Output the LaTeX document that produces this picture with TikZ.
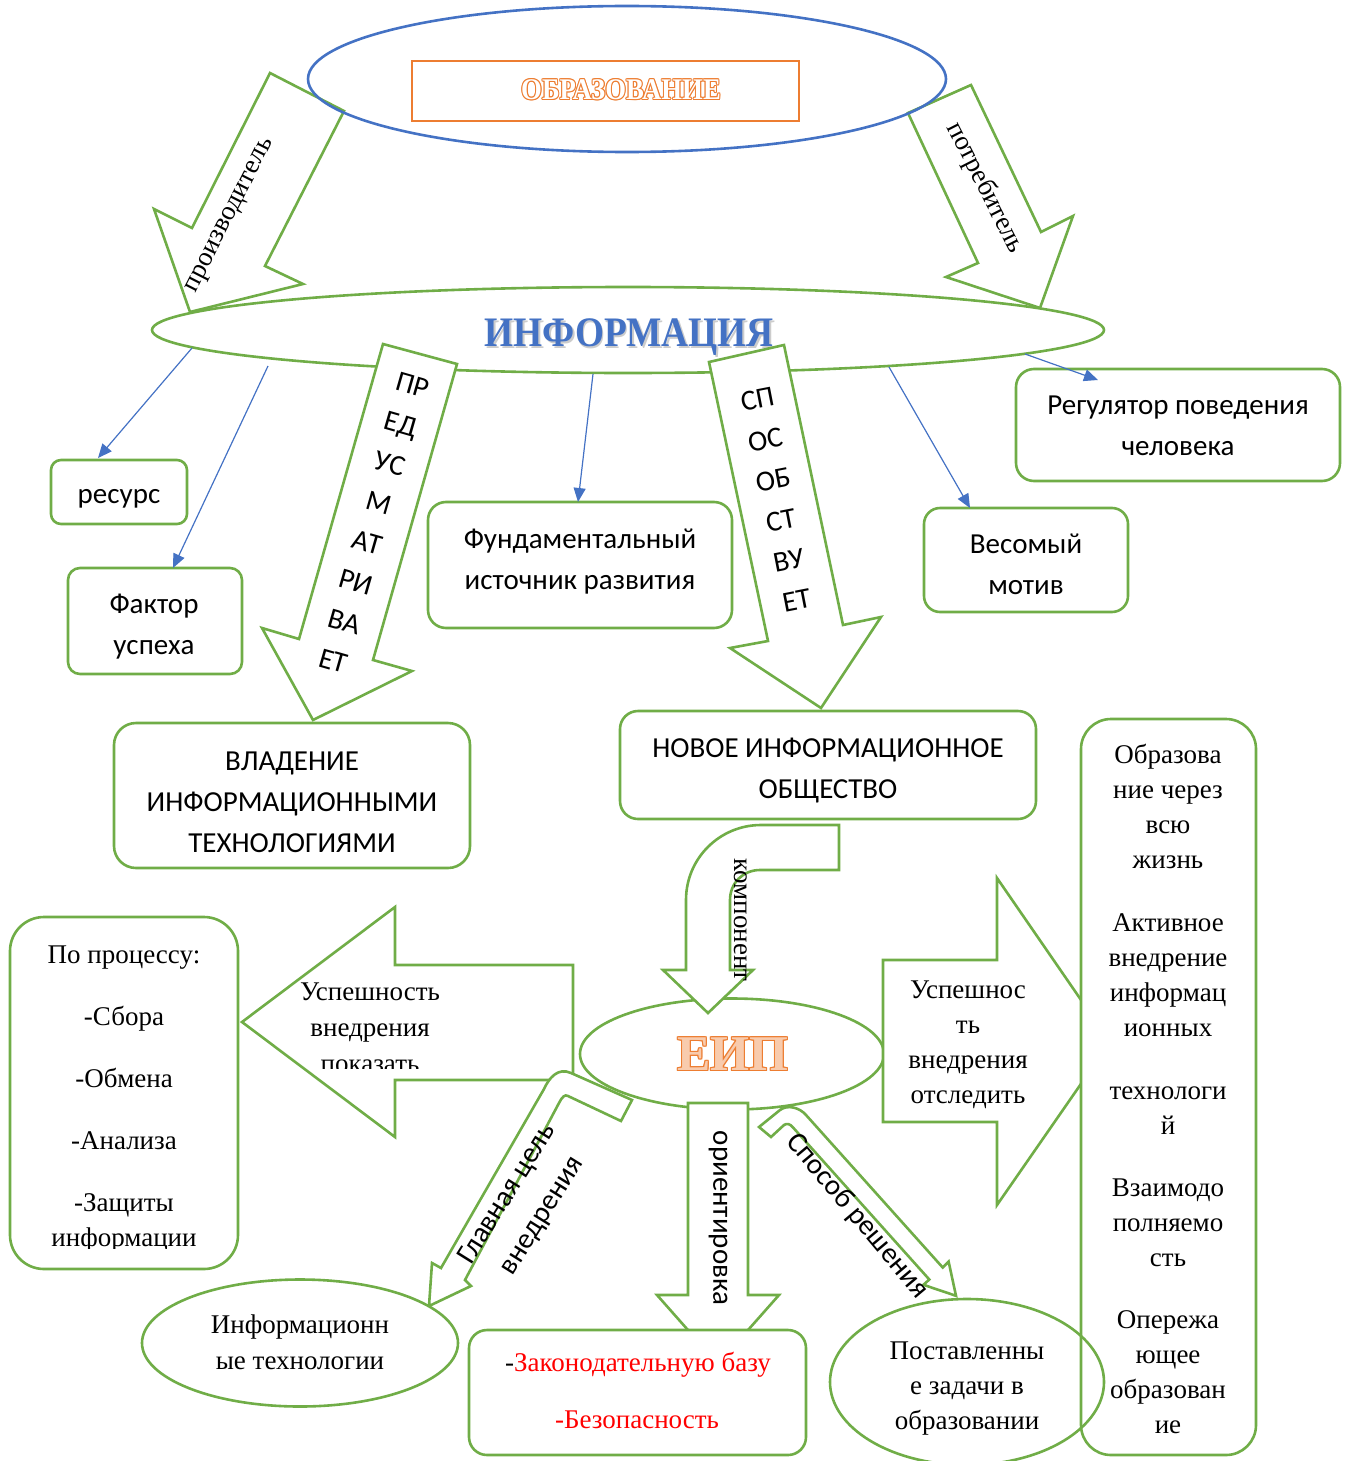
\documentclass[tikz,border=0pt]{standalone}
\usepackage{fontspec}
\usepackage{graphicx}
\setmainfont{Liberation Serif}
\newfontfamily\calib{Carlito}
\usetikzlibrary{shapes.geometric,arrows.meta,calc}
\definecolor{grn}{HTML}{70AD47}
\definecolor{blu}{HTML}{4472C4}
\definecolor{org}{HTML}{ED7D31}
\definecolor{orgL}{HTML}{F8CBAD}
\definecolor{redT}{HTML}{FF0000}
\newcommand{\olt}[3]{\setbox0=\hbox{#3}\leavevmode\hbox{%
 \rlap{\color{#1}\kern0.6pt\copy0}\rlap{\color{#1}\kern-0.6pt\copy0}%
 \rlap{\color{#1}\raise0.6pt\copy0}\rlap{\color{#1}\lower0.6pt\copy0}%
 \rlap{\color{#1}\kern0.42pt\raise0.42pt\copy0}\rlap{\color{#1}\kern-0.42pt\raise0.42pt\copy0}%
 \rlap{\color{#1}\kern0.42pt\lower0.42pt\copy0}\rlap{\color{#1}\kern-0.42pt\lower0.42pt\copy0}%
 {\color{#2}\copy0}}}
\newcommand{\shad}[3]{\setbox0=\hbox{#3}\leavevmode\hbox{%
 \rlap{\color{#1}\kern1pt\lower1.3pt\copy0}{\color{#2}\copy0}}}
\begin{document}
\begin{tikzpicture}[x=0.5pt,y=-0.5pt,
  gline/.style={draw=grn, line width=1.3pt, line join=miter},
  barrow/.style={gline, fill=white},
  box/.style={gline, rounded corners=#1, fill=white, inner sep=0pt},
  box/.default=6pt,
  sans/.style={font=\calib\fontsize{14.5}{20.5}\selectfont, inner sep=0pt, align=center},
  serif/.style={font=\fontsize{13.5}{17.5}\selectfont, inner sep=0pt, align=center},
  conn/.style={draw=blu, line width=0.6pt, -{Triangle[length=7pt,width=6pt]}},
  ell/.style={ellipse, inner sep=0pt}]
\useasboundingbox (0,0) rectangle (1349,1461);

% ---------- top ----------
\draw[barrow] (270,73) -- (344,111) -- (265,266) -- (303,284) -- (190,312) -- (154,209) -- (192,228) -- cycle;
\node[serif, rotate=63] (prod) at (231,216) {производитель};
\draw[barrow] (908,113) -- (971,85) -- (1041,232) -- (1073,216) -- (1040,308) -- (946,277) -- (978,263) -- cycle;
\node[serif, rotate=-63] (potr) at (985,188) {потребитель};

\node[ell, draw=blu, line width=1.3pt, minimum width=319pt, minimum height=73pt] (obr) at (627,79) {};
\node[draw=org, line width=1.3pt, minimum width=193.5pt, minimum height=30pt, inner sep=0pt] (obrbox) at (605.5,91) {};
\node[inner sep=0pt, font=\bfseries\fontsize{15}{15}\selectfont] (obrtxt) at (621,90) {\scalebox{0.89}[1]{\olt{org}{white}{ОБРАЗОВАНИЕ}}};

% ---------- information ----------
\node[ell, gline, fill=white, minimum width=476pt, minimum height=43pt] (info) at (628,330) {};
\node[inner sep=0pt, font=\bfseries\fontsize{21}{21}\selectfont] (infotxt) at (629,338) {\scalebox{0.89}[1]{\shad{gray!40}{blu}{ИНФОРМАЦИЯ}}};

\draw[barrow] (383,344) -- (457,364) -- (373,660) -- (412,671) -- (313,720) -- (262,628) -- (299,639) -- cycle;
\node[sans, rotate=-16] (pred) at (373,523) {ПР\\ЕД\\УС\\М\\АТ\\РИ\\ВА\\ЕТ};
\draw[barrow] (709,362) -- (784,345) -- (843,625) -- (881,617) -- (821,708) -- (730,648) -- (768,641) -- cycle;
\node[sans, rotate=11] (spos) at (777,500) {СП\\ОС\\ОБ\\СТ\\ВУ\\ЕТ};

% ---------- boxes ----------
\node[box=5pt, minimum width=68pt, minimum height=32pt] (res) at (119,492) {};
\node[sans] (tres) at (119,499) {ресурс};
\node[box=6pt, minimum width=87pt, minimum height=53pt] (fak) at (155,621) {};
\node[sans] (tfak) at (154,627) {Фактор\\успеха};
\node[box=9pt, minimum width=152pt, minimum height=63pt] (fund) at (580,565) {};
\node[sans] (tfund) at (580,562) {Фундаментальный\\источник развития};
\node[box=8pt, minimum width=102pt, minimum height=52pt] (ves) at (1026,560) {};
\node[sans] (tves) at (1026,564) {Весомый\\мотив};
\node[box=9pt, minimum width=162pt, minimum height=56pt] (reg) at (1178,425) {};
\node[sans] (treg) at (1178,426) {Регулятор поведения\\человека};
\node[box=11pt, minimum width=178pt, minimum height=72.5pt] (vlad) at (292,795.5) {};
\node[sans] (tvlad) at (292,802) {ВЛАДЕНИЕ\\ИНФОРМАЦИОННЫМИ\\ТЕХНОЛОГИЯМИ};
\node[box=9pt, minimum width=208pt, minimum height=54pt] (novoe) at (828,765) {};
\node[sans] (tnovoe) at (828,771) {НОВОЕ ИНФОРМАЦИОННОЕ\\ОБЩЕСТВО};

\draw[conn] ($(info.center)+(-436,18)$) -- ($(res.center)+(-21,-34)$);
\draw[conn] ($(info.center)+(-360,36)$) -- ($(fak.center)+(18,-53)$);
\draw[conn] ($(info.center)+(-35,44)$) -- ($(fund.center)+(-2,-63)$);
\draw[conn] ($(info.center)+(261,37)$) -- ($(ves.center)+(-56,-52)$);
\draw[conn] ($(info.center)+(397,24)$) -- ($(reg.center)+(-80,-45)$);

% ---------- EIP ----------
\node[ell, gline, fill=white, minimum width=152pt, minimum height=55.5pt] (eip) at (732,1054) {};
\draw[barrow] (839,825) -- (761,825) .. controls (720,825) and (686,858) .. (686,900) -- (686,970) -- (663,970) -- (708,1013) -- (753,970) -- (730,970) -- (730,900) .. controls (730,883) and (743,870) .. (760,870) -- (839,870) -- cycle;
\node[serif, rotate=-90] (komp) at (741,920) {компонент};

% left arrow
\draw[barrow] (242,1022) -- (395,907) -- (395,965) -- (573,965) -- (573,1080) -- (395,1080) -- (395,1137) -- cycle;
\begin{scope}
\clip (250,960) rectangle (572,1068);
\node[serif, anchor=base] (la1) at (370,1000) {Успешность};
\node[serif, anchor=base] (la2) at (370,1036) {внедрения};
\node[serif, anchor=base] (la3) at (370,1072) {показать};
\end{scope}

% right arrow
\draw[barrow] (883,960) -- (997,960) -- (997,878) -- (1110,1042) -- (997,1205) -- (997,1122) -- (883,1122) -- cycle;
\node[serif, anchor=base] (ra1) at (968,998) {Успешнос};
\node[serif, anchor=base] (ra2) at (968,1033) {ть};
\node[serif, anchor=base] (ra3) at (968,1068) {внедрения};
\node[serif, anchor=base] (ra4) at (968,1103) {отследить};

% right column
\node[box=15pt, minimum width=87.5pt, minimum height=368pt] (rcol) at (1168.5,1087) {};
\foreach \t/\y [count=\i] in {Образова/763, ние через/798, всю/833, жизнь/868,
  Активное/931, внедрение/966, информац/1001, ионных/1036,
  технологи/1099, й/1134,
  Взаимодо/1196, полняемо/1231, сть/1266,
  Опережа/1328, ющее/1363, образован/1398, ие/1433}
  \node[serif, anchor=base] (rc\i) at (1168,\y) {\t};

% left box
\node[box=17pt, minimum width=114pt, minimum height=176pt] (lbox) at (124,1093) {};
\begin{scope}
\clip (12,920) rectangle (236,1248);
\foreach \t/\y [count=\i] in {По процессу:/963, -Сбора/1025, -Обмена/1087, -Анализа/1149, -Защиты/1211, информации/1246}
  \node[serif, anchor=base] (lb\i) at (124,\y) {\t};
\end{scope}

% bottom arrows
\draw[barrow] (632,1100) -- (571,1073) .. controls (558,1067) and (549,1078) .. (544,1089) -- (441,1268) -- (432,1263) -- (429,1306) -- (471,1286) -- (465,1280) -- (559,1103) .. controls (562,1097) and (565,1094) .. (568,1096) -- (621,1121) -- cycle;
\node[sans, rotate=58] (glav) at (525,1205) {Главная цель\\внедрения};

\draw[barrow] (688,1103) -- (748,1103) -- (748,1295) -- (779,1295) -- (718,1364) -- (657,1295) -- (688,1295) -- cycle;
\node[sans, rotate=-90] (orient) at (718,1218) {ориентировка};

\draw[barrow] (759,1127) -- (780,1110) .. controls (788,1104) and (800,1108) .. (806,1115) -- (942.7,1267.5) -- (948.6,1261.5) -- (956,1295.8) -- (923.4,1284.8) -- (929.3,1279.5) -- (792.6,1127) .. controls (790,1124) and (787,1123) .. (784,1125) -- (771,1137) -- cycle;
\node[sans, rotate=-50] (sposr) at (857,1216) {Способ решения};

\node[inner sep=0pt, font=\bfseries\fontsize{25}{25}\selectfont] (eiptxt) at (733,1054) {\olt{org}{orgL}{ЕИП}};

% bottom shapes
\node[box=9pt, minimum width=168.5pt, minimum height=62.5pt] (zak) at (637.5,1392.5) {};
\node[serif, anchor=base] (z1) at (638,1371) {-\textcolor{redT}{Законодательную базу}};
\node[serif, anchor=base, text=redT] (z2) at (637,1428) {-Безопасность};

\node[ell, gline, fill=white, minimum width=158pt, minimum height=63.5pt] (it) at (300,1343) {};
\node[serif, anchor=base] (it1) at (300,1333) {Информационн};
\node[serif, anchor=base] (it2) at (300,1369) {ые технологии};

\node[ell, gline, minimum width=137pt, minimum height=83pt] (post) at (967,1382) {};
\node[serif, anchor=base] (p1) at (967,1359) {Поставленны};
\node[serif, anchor=base] (p2) at (967,1394) {е задачи в};
\node[serif, anchor=base] (p3) at (967,1429) {образовании};
\end{tikzpicture}
\end{document}
